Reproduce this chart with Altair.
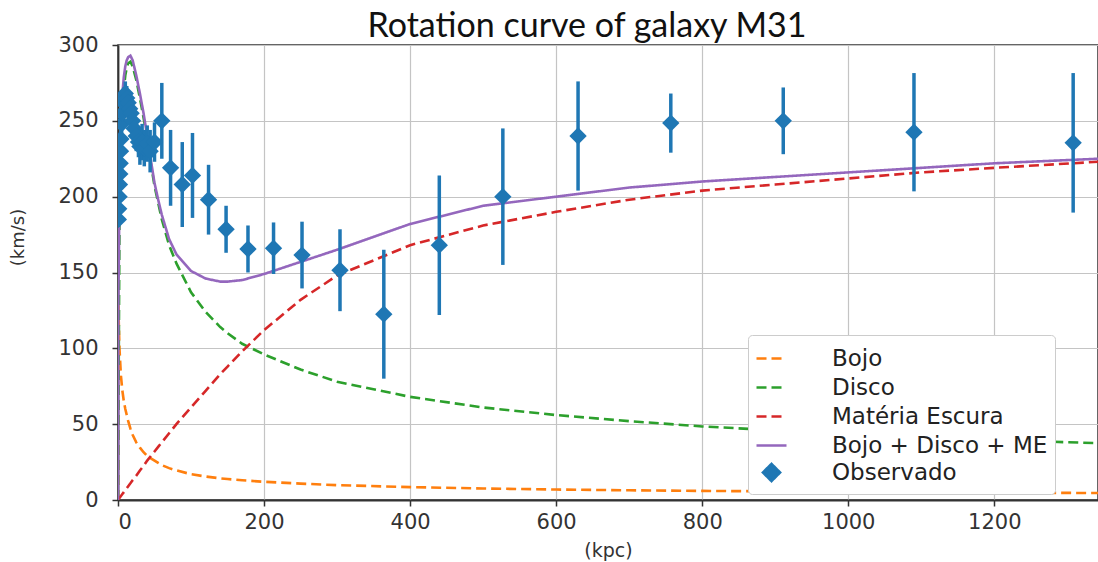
import altair as alt
import pandas as pd

# ---- model curves ----
r_kpc = [0, 0.5, 1, 2, 4, 6, 8, 10, 12, 14,
         17, 20, 25, 30, 35, 40, 45, 50, 55, 60,
         70, 80, 100, 120, 140, 150, 170, 200, 250, 300,
         400, 500, 600, 700, 800, 900, 1000, 1100, 1200, 1342]
v_bojo = [0, 130, 118, 100, 82, 72, 65, 60, 56, 52,
          47, 43, 38, 34.5, 31.5, 29, 27.5, 26, 24.5, 23,
          21, 19.5, 17, 15.5, 14.3, 13.8, 13, 12, 10.8, 9.8,
          8.5, 7.6, 6.9, 6.4, 6.0, 5.7, 5.4, 5.1, 4.9, 4.6]
v_disco = [0, 45, 90, 180, 235, 258, 271, 280, 285, 288,
           289, 286, 277, 265, 252, 238, 222, 207, 196, 185,
           168, 156, 137, 124, 114, 110, 103, 96, 86, 78,
           68, 61, 56, 52, 48.5, 46, 43.5, 41.5, 39.5, 37.5]
v_me = [0, 0.3, 0.7, 1.3, 2.6, 3.9, 5.2, 6.5, 7.8, 9.1,
        11, 13, 16, 19.5, 22.5, 26, 29, 32, 35, 38,
        44, 50, 61, 72, 83, 88, 98, 112, 132, 148,
        168, 181, 190, 198, 204, 208, 212, 216, 219, 223]
v_total = [0, 140, 150, 205, 250, 268, 279, 286, 290, 292,
           293, 290, 280, 268, 255, 240, 224, 209, 198, 188,
           172, 162, 151, 146, 144, 144, 145, 149, 157, 165,
           182, 194, 200, 206, 210, 213, 216, 219, 222, 225]

# ---- observed points ----
obs_r = [0.5, 1, 1.5, 2, 2.5, 3, 3.5, 4, 5, 6,
         7, 8, 10, 12, 14, 16, 18, 20, 22, 25,
         28, 30, 33, 36, 40, 44, 50, 60, 72, 88,
         102, 124, 148, 178, 213, 252, 304, 364, 440, 527,
         630, 757, 911, 1090, 1308]
obs_v = [185, 192, 200, 208, 215, 222, 230, 238, 248, 255,
         262, 266, 268, 265, 262, 258, 255, 250, 245, 240,
         236, 233, 236, 232, 235, 230, 236, 250, 219, 208,
         214, 198, 178.5, 165.5, 166, 161.5, 151.5, 122.5, 168, 200,
         240, 248.5, 250, 242.5, 235.5]
obs_err = [5, 5, 5, 5, 5, 6, 6, 6, 6, 8,
           6, 6, 8, 8, 8, 8, 10, 10, 10, 10,
           10, 12, 12, 12, 12, 14, 13, 25, 25, 28,
           28, 23, 15.5, 15.5, 17, 22, 27, 42.5, 46, 45,
           36, 19.5, 22, 39, 46]

names = ["Bojo", "Disco", "Matéria Escura", "Bojo + Disco + ME", "Observado"]
colors = ["#ff7f0e", "#2ca02c", "#d62728", "#9467bd", "#1f77b4"]
x_ticks = [0, 200, 400, 600, 800, 1000, 1200]
y_ticks = [0, 50, 100, 150, 200, 250, 300]

curves = pd.concat([
    pd.DataFrame({"r": r_kpc, "v": vals, "series": name})
    for name, vals in zip(names[:4], [v_bojo, v_disco, v_me, v_total])
])
obs = pd.DataFrame({"r": obs_r, "v": obs_v, "err": obs_err, "series": "Observado"})

x_enc = alt.X("r:Q", scale=alt.Scale(domain=[0, 1342], nice=False, zero=False),
              axis=alt.Axis(values=x_ticks, format="d", title="(kpc)", titleFontSize=19,
                            titleFont="DejaVu Sans", titleFontWeight="normal",
                            titleColor="#333", titleY=50, titleBaseline="middle",
                            labelPadding=5))
y_enc = alt.Y("v:Q", scale=alt.Scale(domain=[0, 300], nice=False),
              axis=alt.Axis(values=y_ticks, format="d", title="(km/s)", titleFontSize=18,
                            titleFont="DejaVu Sans", titleFontWeight="normal",
                            titleColor="#333", titleX=-100, titleY=192,
                            titleAlign="center", titleBaseline="middle",
                            labelPadding=14))

legend = alt.Legend(title=None, orient="none", legendX=630, legendY=290,
                    fillColor="white", strokeColor="#cccccc", cornerRadius=4,
                    padding=7, labelFont="DejaVu Sans", labelFontSize=23,
                    labelColor="#222", symbolStrokeWidth=2.5, labelOffset=44,
                    labelLimit=400, rowPadding=0)

color_enc = alt.Color("series:N", scale=alt.Scale(domain=names, range=colors), legend=legend)
dash_enc = alt.StrokeDash("series:N",
                          scale=alt.Scale(domain=names,
                                          range=[[10, 5], [10, 5], [10, 5], [1, 0], [1, 0]]),
                          legend=legend)
shape_enc = alt.Shape("series:N",
                      scale=alt.Scale(domain=names,
                                      range=["stroke", "stroke", "stroke", "stroke", "diamond"]),
                      legend=legend)
size_enc = alt.Size("series:N",
                    scale=alt.Scale(type="ordinal", domain=names,
                                    range=[900, 900, 900, 900, 300]),
                    legend=legend)

lines = alt.Chart(curves).mark_line(strokeWidth=2.6, clip=True).encode(
    x=x_enc, y=y_enc, color=color_enc, strokeDash=dash_enc, order="r:Q"
)

errbars = alt.Chart(obs).transform_calculate(
    lo="datum.v - datum.err", hi="datum.v + datum.err"
).mark_rule(strokeWidth=3.5, color="#1f77b4", clip=True).encode(
    x="r:Q", y="lo:Q", y2="hi:Q"
)

points = alt.Chart(obs).mark_point(filled=True, opacity=1, clip=True).encode(
    x="r:Q", y="v:Q", color=color_enc, shape=shape_enc, size=size_enc
)

chart = alt.layer(lines, errbars, points).properties(
    width=980, height=455,
    background="white",
    padding={"left": 118, "top": 45, "right": 0, "bottom": 62},
    autosize=alt.AutoSizeParams(type="none"),
    title=alt.TitleParams("Rotation curve of galaxy M31", font="Lato", fontSize=34,
                          fontWeight="normal", color="#111", anchor="middle",
                          dx=-21, dy=45, offset=8, baseline="alphabetic"),
).configure_view(
    stroke="#333", strokeWidth=1.5
).configure_axis(
    labelFont="DejaVu Sans", labelFontSize=21, labelColor="#333",
    tickColor="#333", tickSize=6, tickWidth=1.5, domainColor="#333", domainWidth=1.8,
    gridColor="#c4c4c4", gridWidth=1.2
)

chart.save("out.html", embed_options={"renderer": "svg", "actions": False})
